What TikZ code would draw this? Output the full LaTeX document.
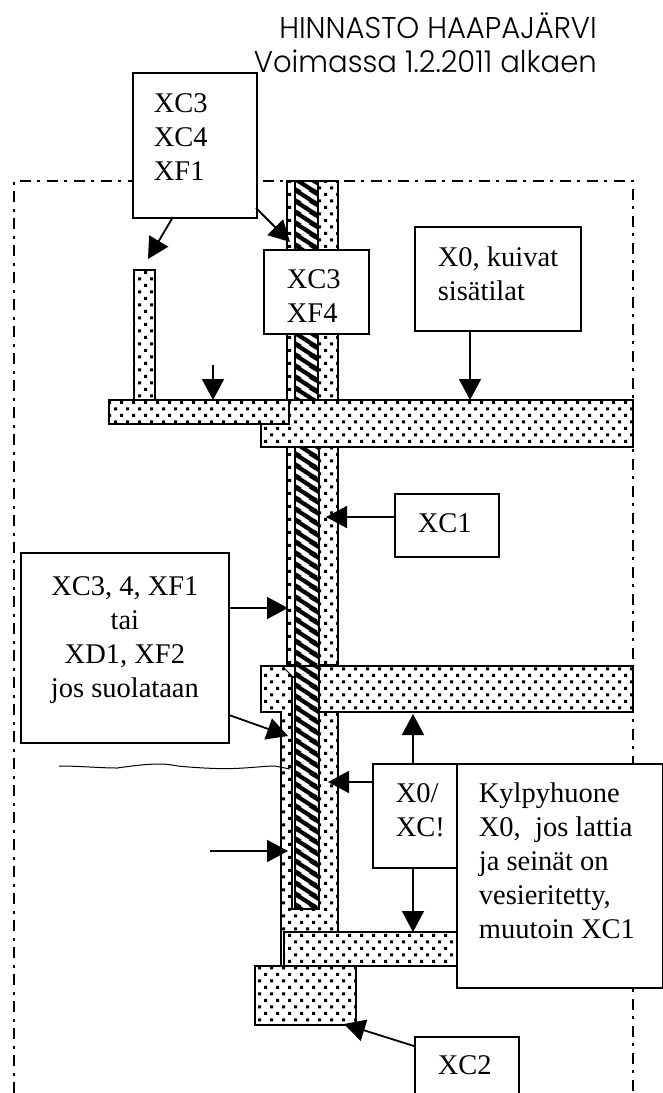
\documentclass[tikz,border=0pt]{standalone}
\usepackage{fontspec}
\setmainfont{Liberation Serif}
\newfontfamily\titlefont[FakeStretch=0.97]{Poppins Light}
\usetikzlibrary{patterns,arrows.meta}
\pgfdeclarepatternformonly{wdots}{\pgfqpoint{-1pt}{-1pt}}{\pgfqpoint{11pt}{11pt}}{\pgfqpoint{12pt}{13pt}}{%
  \pgfpathrectangle{\pgfqpoint{0pt}{0pt}}{\pgfqpoint{3pt}{3pt}}%
  \pgfpathrectangle{\pgfqpoint{6pt}{6.5pt}}{\pgfqpoint{3pt}{3pt}}%
  \pgfusepath{fill}}
\pgfdeclarepatternformonly{whatch}{\pgfqpoint{0pt}{0pt}}{\pgfqpoint{15.7pt}{11pt}}{\pgfqpoint{15.7pt}{11pt}}{%
  \pgfsetlinewidth{4.4pt}%
  \pgfpathmoveto{\pgfqpoint{-5pt}{14.5pt}}\pgfpathlineto{\pgfqpoint{20.7pt}{-3.5pt}}%
  \pgfpathmoveto{\pgfqpoint{-5pt}{3.5pt}}\pgfpathlineto{\pgfqpoint{20.7pt}{-14.5pt}}%
  \pgfpathmoveto{\pgfqpoint{-5pt}{25.5pt}}\pgfpathlineto{\pgfqpoint{20.7pt}{7.5pt}}%
  \pgfusepath{stroke}}
\tikzset{
  lbl/.style={draw,line width=1.8pt,fill=white,inner sep=0pt,anchor=north west},
  part/.style={draw,line width=1.8pt,pattern=wdots},
  hatchpart/.style={draw,line width=1.8pt,pattern=whatch,preaction={fill=white}},
  arr/.style={line width=1.8pt,-{Triangle[length=21pt,width=22pt]}},
  frame/.style={line width=2pt,dash pattern=on 11pt off 6pt on 3pt off 7pt},
  titletext/.style={anchor=base east,font=\titlefont\fontsize{30}{34}\selectfont,inner sep=0pt},
}
% name, x1, y1, x2, y2, left pad, top pad, alignment, text
\newcommand{\boxat}[9]{\node[lbl] (#1) at (#2,#3) {%
  \begin{minipage}[c][\dimexpr#5pt-#3pt\relax][t]{\dimexpr#4pt-#2pt\relax}%
  \fontsize{28.5}{34}\selectfont\vspace*{#7pt}#8\advance\leftskip by #6pt \rule{0pt}{20pt}#9\end{minipage}};}
\begin{document}
\begin{tikzpicture}[x=1pt,y=-1pt]
\useasboundingbox (0,0) rectangle (662,1093);
\node[titletext] (title1) at (597,38) {HINNASTO HAAPAJÄRVI};
\node[titletext] (title2) at (597,72) {Voimassa 1.2.2011 alkaen};
\draw[frame] (14,1093) -- (14,181) -- (633,181) -- (633,1093);
% post
\coordinate (p1) at (134,270);\coordinate (p2) at (155,400);
\draw[part] (p1) rectangle (p2);
% wall
\fill[white] (287,181) rectangle (338,665);
\draw[part] (287,181) rectangle (338,665);
\draw[hatchpart] (295,181) rectangle (318,447);
\draw[hatchpart] (295,447) rectangle (319,666);
% upper slabs
\fill[white] (261,400) rectangle (633,447);
\draw[part] (261,400) rectangle (633,447);
\fill[white] (109,400) rectangle (289,424);
\draw[part] (109,400) rectangle (289,424);
% middle slab
\fill[white] (261,666) rectangle (633,712);
\draw[part] (261,666) rectangle (633,712);
% lower wall
\fill[white] (282,666) rectangle (338,932);
\fill[pattern=wdots] (282,666) rectangle (338,932);
\draw[line width=1.8pt] (281,712) -- (281,966) (338,712) -- (338,932);
\draw[line width=1pt] (282,666) -- (293,677);
\draw[line width=1.8pt] (261,666) -- (633,666) (261,712) -- (282,712) (319,712) -- (633,712);
% leaf with hatching
\draw[line width=1.8pt,fill=white] (292,677) rectangle (319,909);
\draw[hatchpart] (295,666) rectangle (319,909);
% lower slab and footing
\fill[white] (284,932) rectangle (470,966);
\draw[part] (284,932) rectangle (470,966);
\fill[white] (255,966) rectangle (356,1025);
\draw[part] (255,966) rectangle (356,1025);
% labels
\boxat{a}{132}{72}{256}{217}{21}{20}{\raggedright}{XC3\\XC4\\XF1}
\boxat{b}{263}{249}{368}{333}{23}{19}{\raggedright}{XC3\\XF4}
\boxat{c}{414}{226}{580}{330}{23}{20}{\raggedright}{X0, kuivat\\sisätilat}
\boxat{d}{394}{493}{498}{556}{23}{19}{\raggedright}{XC1}
\boxat{e}{20}{552}{228}{742}{0}{23}{\centering}{XC3, 4, XF1\\tai\\XD1, XF2\\jos suolataan}
\boxat{f}{372}{763}{456}{867}{23}{19}{\raggedright}{X0/\\XC!}
\boxat{g}{456}{763}{662}{987}{22}{19}{\raggedright}{Kylpyhuone\\X0,\ \ jos lattia\\ja seinät on\\vesieritetty,\\muutoin XC1}
\boxat{h}{414}{1036}{518}{1100}{23}{18}{\raggedright}{XC2}
% arrows
\coordinate (t1) at (148,259);\coordinate (t2) at (290,242);
\draw[arr] (173,217) -- (t1);
\draw[arr] (256,208) -- (t2);
\coordinate (s1) at (213,365);\coordinate (t3) at (213,400);
\draw[arr] (s1) -- (t3);
\coordinate (t4) at (470,400);
\draw[arr] (c.south -| t4) -- (t4);
\coordinate (t5) at (326,517);
\draw[arr] (d.west |- t5) -- (t5);
\coordinate (t6) at (288,608);
\draw[arr] (e.east |- t6) -- (t6);
\coordinate (t7) at (288,736);
\draw[arr] (229,715) -- (t7);
\coordinate (t8) at (328,782);
\draw[arr] (f.west |- t8) -- (t8);
\coordinate (s9) at (210,851);\coordinate (t9) at (288,851);
\draw[arr] (s9) -- (t9);
\coordinate (t10) at (413,714);
\draw[arr] (f.north -| t10) -- (t10);
\coordinate (t11) at (413,932);
\draw[arr] (f.south -| t11) -- (t11);
\coordinate (t12) at (344,1024);
\draw[arr] (414,1046) -- (t12);
% water line
\draw[line width=1pt] (59,766) .. controls (80,766) and (100,768) .. (117,768) .. controls (132,766) and (145,764) .. (160,764) .. controls (170,764) and (175,766) .. (183,766.5) .. controls (200,768) and (220,769) .. (233,768.5) .. controls (250,768) and (265,766) .. (275,766) -- (290,769);
\end{tikzpicture}
\end{document}
